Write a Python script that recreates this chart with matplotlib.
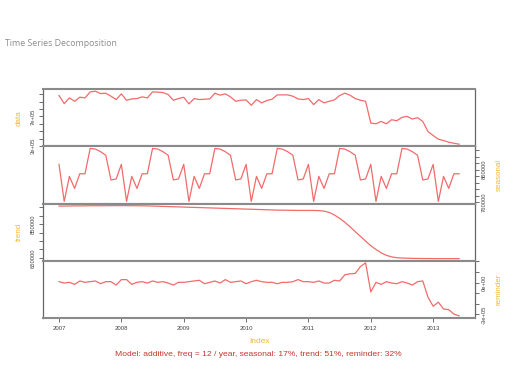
import matplotlib
matplotlib.use("Agg")
import matplotlib.pyplot as plt
import numpy as np

# monthly series, Jan 2007 .. Jun 2013
start_year = 2007
data = [985000, 875000, 953000, 907000, 962000, 953000, 1035000, 1044000, 1012000, 1017000, 976000, 930000,
        1008000, 921000, 939000, 944000, 967000, 953000, 1035000, 1031000, 1026000, 999000, 921000, 944000,
        962000, 871000, 944000, 930000, 935000, 939000, 1017000, 990000, 1008000, 967000, 907000, 921000,
        926000, 853000, 930000, 885000, 917000, 935000, 994000, 994000, 994000, 976000, 939000, 930000,
        944000, 862000, 930000, 885000, 907000, 926000, 985000, 1017000, 990000, 944000, 921000, 907000,
        610000, 601000, 633000, 601000, 656000, 642000, 688000, 702000, 665000, 684000, 633000, 496000,
        441000, 391000, 373000, 350000, 336000, 323000]

# seasonal cycle (Jan..Dec), repeats every year
seasonal_cycle = [876000, 762000, 839000, 802000, 847000, 847000, 925000, 923000, 915000, 904000, 828000, 831000]

trend = [958000, 958000, 958500, 959000, 959000, 959500, 960000, 960000, 960000, 960000, 960500, 960500,
         960500, 960500, 960000, 960000, 959500, 959000, 958000, 957000, 956000, 955000, 954000, 953000,
         952000, 951000, 950000, 949000, 948000, 947000, 946000, 945000, 944000, 943000, 942000, 941000,
         940000, 939000, 938000, 937000, 936000, 935000, 934000, 933500, 933000, 932500, 932000, 932000,
         932000, 932000, 931000, 928000, 920000, 905000, 885000, 862000, 835000, 806000, 778000, 750000,
         722000, 700000, 680000, 665000, 656000, 651000, 649000, 648000, 647000, 646500, 646000, 646000,
         645500, 645500, 645500, 645500, 645500, 645500]

reminder = [8000, -5000, 1600, -17600, 14400, 1600, 8000, 14400, -11200, 8000, 8000, -24100,
            27200, 27200, -17600, 1600, 8000, -5000, 14400, 1600, 8000, -5000, -24100, 1600,
            1600, 8000, 14400, 20800, -11200, 1600, 14400, -5000, 27200, 1600, 8000, 14400,
            -11200, 8000, 20800, 8000, 1600, 1600, -11200, 1600, 1600, 8000, 27200, 8000,
            8000, 1600, 14400, -5000, -5000, 20800, 14400, 72100, 81700, 84900, 149000, 184300,
            -88200, 1600, -17600, 8000, -5000, -11200, 8000, -5000, -24100, 8000, 14400, -136200,
            -222800, -184300, -248400, -254800, -296500, -312500]

year_ticks = [2007, 2008, 2009, 2010, 2011, 2012, 2013]

n = len(data)
t = start_year + np.arange(n) / 12.0
seasonal = np.tile(seasonal_cycle, n // 12 + 1)[:n]

line_col = "#f26b6b"
lab_col = "#f7b733"
frame_col = "#8a8a8a"
tick_col = "#555555"

plt.rcParams['font.family'] = ['Liberation Sans', 'DejaVu Sans']

fig = plt.figure(figsize=(5.12, 3.84), dpi=100)
fig.patch.set_facecolor("white")
gs = fig.add_gridspec(4, 1, left=0.084, right=0.928, top=0.768, bottom=0.172, hspace=0)

panels = [
    ("data", data, "left", np.arange(300000, 1000001, 100000), {300000: "3e+05", 700000: "7e+05"}),
    ("seasonal", seasonal, "right", np.arange(760000, 920001, 20000), {760000: "760000", 860000: "860000"}),
    ("trend", trend, "left", np.arange(650000, 950001, 50000), {650000: "650000", 850000: "850000"}),
    ("reminder", reminder, "right", np.arange(-300000, 200001, 100000), {-300000: "-3e+05", 0: "0e+00"}),
]

xpad = (t[-1] - t[0]) * 0.04
axes = []
for k, (name, vals, side, ticks, labels) in enumerate(panels):
    ax = fig.add_subplot(gs[k])
    vals = np.asarray(vals, dtype=float)
    ax.plot(t, vals, color=line_col, lw=0.9)
    lo, hi = vals.min(), vals.max()
    pad = (hi - lo) * 0.04
    ax.set_ylim(lo - pad, hi + pad)
    ax.set_xlim(t[0] - xpad, t[-1] + xpad)
    for key, s in ax.spines.items():
        if key in ("top", "bottom"):
            s.set_color(frame_col)
            s.set_linewidth(1.5)
        else:
            s.set_color("#666666")
            s.set_linewidth(0.9)
    ax.yaxis.set_ticks_position(side)
    ax.yaxis.set_label_position(side)
    ax.set_yticks(ticks)
    ax.set_yticklabels([labels.get(int(v), "") for v in ticks], rotation=90, va="center")
    ax.tick_params(axis="y", length=3, width=0.6, color=tick_col, labelsize=4.2,
                   labelcolor="#444444", pad=2)
    ax.set_ylabel(name, color=lab_col, fontsize=5.8, labelpad=6)
    if k < 3:
        ax.set_xticks([])
    else:
        ax.set_xticks(year_ticks)
        ax.set_xticklabels([str(y) for y in year_ticks])
        ax.tick_params(axis="x", length=3, width=0.6, color=tick_col, labelsize=4.3,
                       labelcolor="#444444", pad=3)
        ax.set_xlabel("Index", color=lab_col, fontsize=6, labelpad=5)
    axes.append(ax)

fig.text(0.01, 0.888, "Time Series Decomposition", color="#8c8c8c", fontsize=6.3,
         family=["Open Sans", "DejaVu Sans"], ha="left", va="center")
fig.text(0.504, 0.076, "Model: additive, freq = 12 / year, seasonal: 17%, trend: 51%, reminder: 32%",
         color="#c0392b", fontsize=6.1, ha="center", va="center")

fig.savefig("out.png", dpi=100)
